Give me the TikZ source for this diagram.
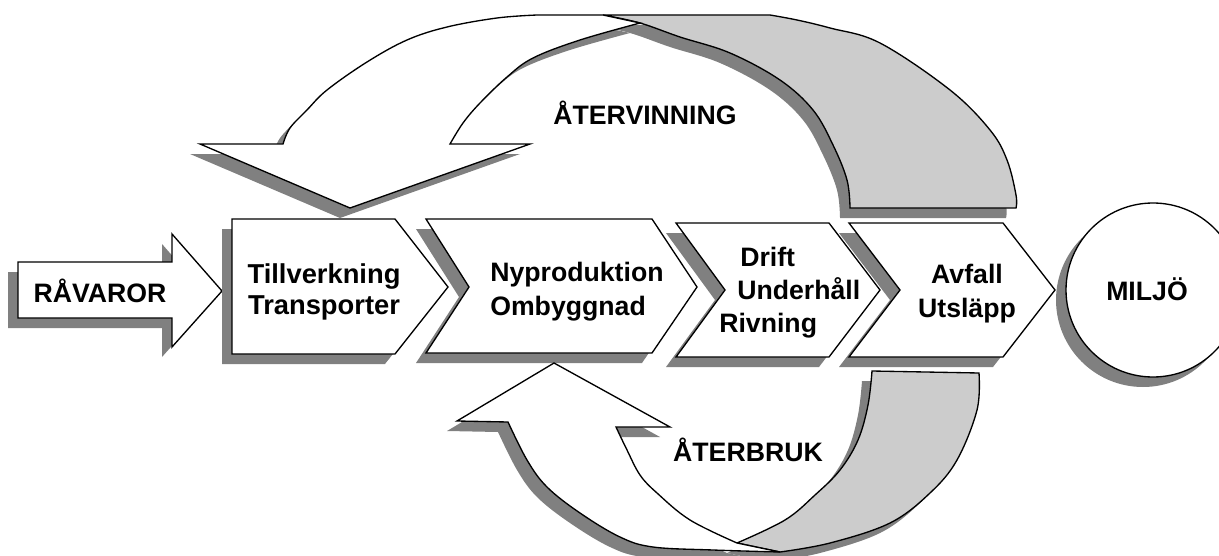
\documentclass[tikz,border=0pt]{standalone}
\usepackage{fontspec}
\setmainfont{Liberation Sans}
\definecolor{shadowgray}{HTML}{808080}
\definecolor{bandgray}{HTML}{CCCCCC}
\tikzset{
  outline/.style={draw=black, line width=1pt, line join=miter},
  face/.style={outline, fill=white},
  backface/.style={outline, fill=bandgray},
  dropshadow/.style={fill=shadowgray, draw=none, shift={(-10,10)}},
  lbl/.style={font=\fontsize{20}{25}\selectfont\bfseries, inner sep=0pt},
}
% Block arrow for the raw materials
\newcommand{\rawarrowpath}{(18,262) -- (172,262) -- (172,234) -- (222,291) -- (172,347) -- (172,318) -- (18,318) -- cycle}
% Process steps (chevrons)
\newcommand{\mfgpath}{(232,219) -- (395,219) -- (448,287) -- (395,354) -- (232,354) -- cycle}
\newcommand{\buildpath}{(426,219) -- (652,219) -- (697,287) -- (652,353) -- (426,353) -- (469,287) -- cycle}
\newcommand{\usepath}{(676,223) -- (829,223) -- (880,290) -- (829,357) -- (676,357) -- (725,290) -- cycle}
\newcommand{\wastepath}{(849,223) -- (1003,223) -- (1055,290) -- (1003,357) -- (849,357) -- (900,290) -- cycle}
% Upper curved arrow: front face with head, and back face of the band
\newcommand{\recfront}{(200,144) -- (283,144)
  -- plot[smooth, tension=0.6] coordinates {(283,144) (290,128) (307,110) (327,90) (367,62) (407,40) (447,27) (497,18) (537,15)}
  -- (603,15) -- (640,23)
  -- plot[smooth, tension=0.6] coordinates {(640,23) (580,40) (533,58) (507,77) (480,103) (463,123) (450,144)}
  -- (530,144) -- (350,208) -- cycle}
\newcommand{\recback}{(603,15) -- (770,15)
  -- plot[smooth, tension=0.6] coordinates {(770,15) (797,20) (830,28) (880,43) (950,90) (990,130) (1007,160) (1016,195) (1016,208)}
  -- (850,208)
  -- plot[smooth, tension=0.6] coordinates {(850,208) (847,180) (833,145) (813,110) (780,80) (730,53) (680,37) (640,23) (603,15)} -- cycle}
% Lower curved arrow: front face with head, and back face of the band
\newcommand{\reusefront}{(554,363) -- (670,427) -- (616,427)
  -- plot[smooth, tension=0.6] coordinates {(616,427) (627,450) (640,475) (657,493) (690,520) (737,543)}
  -- (780,552)
  -- plot[smooth, tension=0.6] coordinates {(780,552) (713,550) (653,547) (620,537) (580,513) (547,487) (527,460) (508,422)}
  -- (457,421) -- cycle}
\newcommand{\reuseback}{(780,552)
  -- plot[smooth, tension=0.6] coordinates {(780,552) (830,543) (890,523) (930,493) (957,460) (977,410) (979,373)}
  -- (872,371)
  -- plot[smooth, tension=0.6] coordinates {(872,371) (868,405) (858,440) (840,470) (815,495) (785,520) (737,543)}
  -- cycle}
\begin{document}
\begin{tikzpicture}[x=0.75pt, y=-0.75pt]
  \useasboundingbox (0,0) rectangle (1219,556);
  \clip (0,0) rectangle (1219,556);

  % raw materials
  \fill[dropshadow] \rawarrowpath;
  \draw[face] \rawarrowpath;

  % recycling loop
  \fill[dropshadow] \recback;
  \fill[dropshadow] \recfront;
  \draw[backface] \recback;
  \draw[face] \recfront;

  % process chain
  \fill[dropshadow] \mfgpath;
  \draw[face] \mfgpath;
  \fill[dropshadow] \buildpath;
  \draw[face] \buildpath;
  \fill[dropshadow] \usepath;
  \draw[face] \usepath;
  \fill[dropshadow] \wastepath;
  \draw[face] \wastepath;

  % environment
  \fill[dropshadow] (1153,290) circle [radius=87];
  \draw[face] (1153,290) circle [radius=87];

  % reuse loop
  \fill[dropshadow] \reuseback;
  \fill[dropshadow] \reusefront;
  \draw[backface] \reuseback;
  \draw[face] \reusefront;

  % labels
  \node[lbl, anchor=base] (rawmat) at (100,302) {RÅVAROR};
  \node[lbl, anchor=base, font=\fontsize{20.5}{23.5}\selectfont\bfseries] (mfg) at (324,283)
    {\begin{tabular}[t]{@{}c@{}}Tillverkning\\Transporter\end{tabular}};
  \node[lbl, anchor=base west, font=\fontsize{20}{25.5}\selectfont\bfseries] (build) at (490,281)
    {\begin{tabular}[t]{@{}l@{}}Nyproduktion\\Ombyggnad\end{tabular}};
  \node[lbl, anchor=base west] (use) at (719,266)
    {\begin{tabular}[t]{@{}l@{}}\hspace*{15.75pt}Drift\\\hspace*{13.5pt}Underhåll\\Rivning\end{tabular}};
  \node[lbl, anchor=base, font=\fontsize{20}{25.5}\selectfont\bfseries] (waste) at (967,283)
    {\begin{tabular}[t]{@{}c@{}}Avfall\\Utsläpp\end{tabular}};
  \node[lbl, anchor=base] (env) at (1147,300) {MILJÖ};
  \node[lbl, anchor=base] (recycle) at (645,125) {ÅTERVINNING};
  \node[lbl, anchor=base] (reuse) at (748,461) {ÅTERBRUK};
\end{tikzpicture}
\end{document}
